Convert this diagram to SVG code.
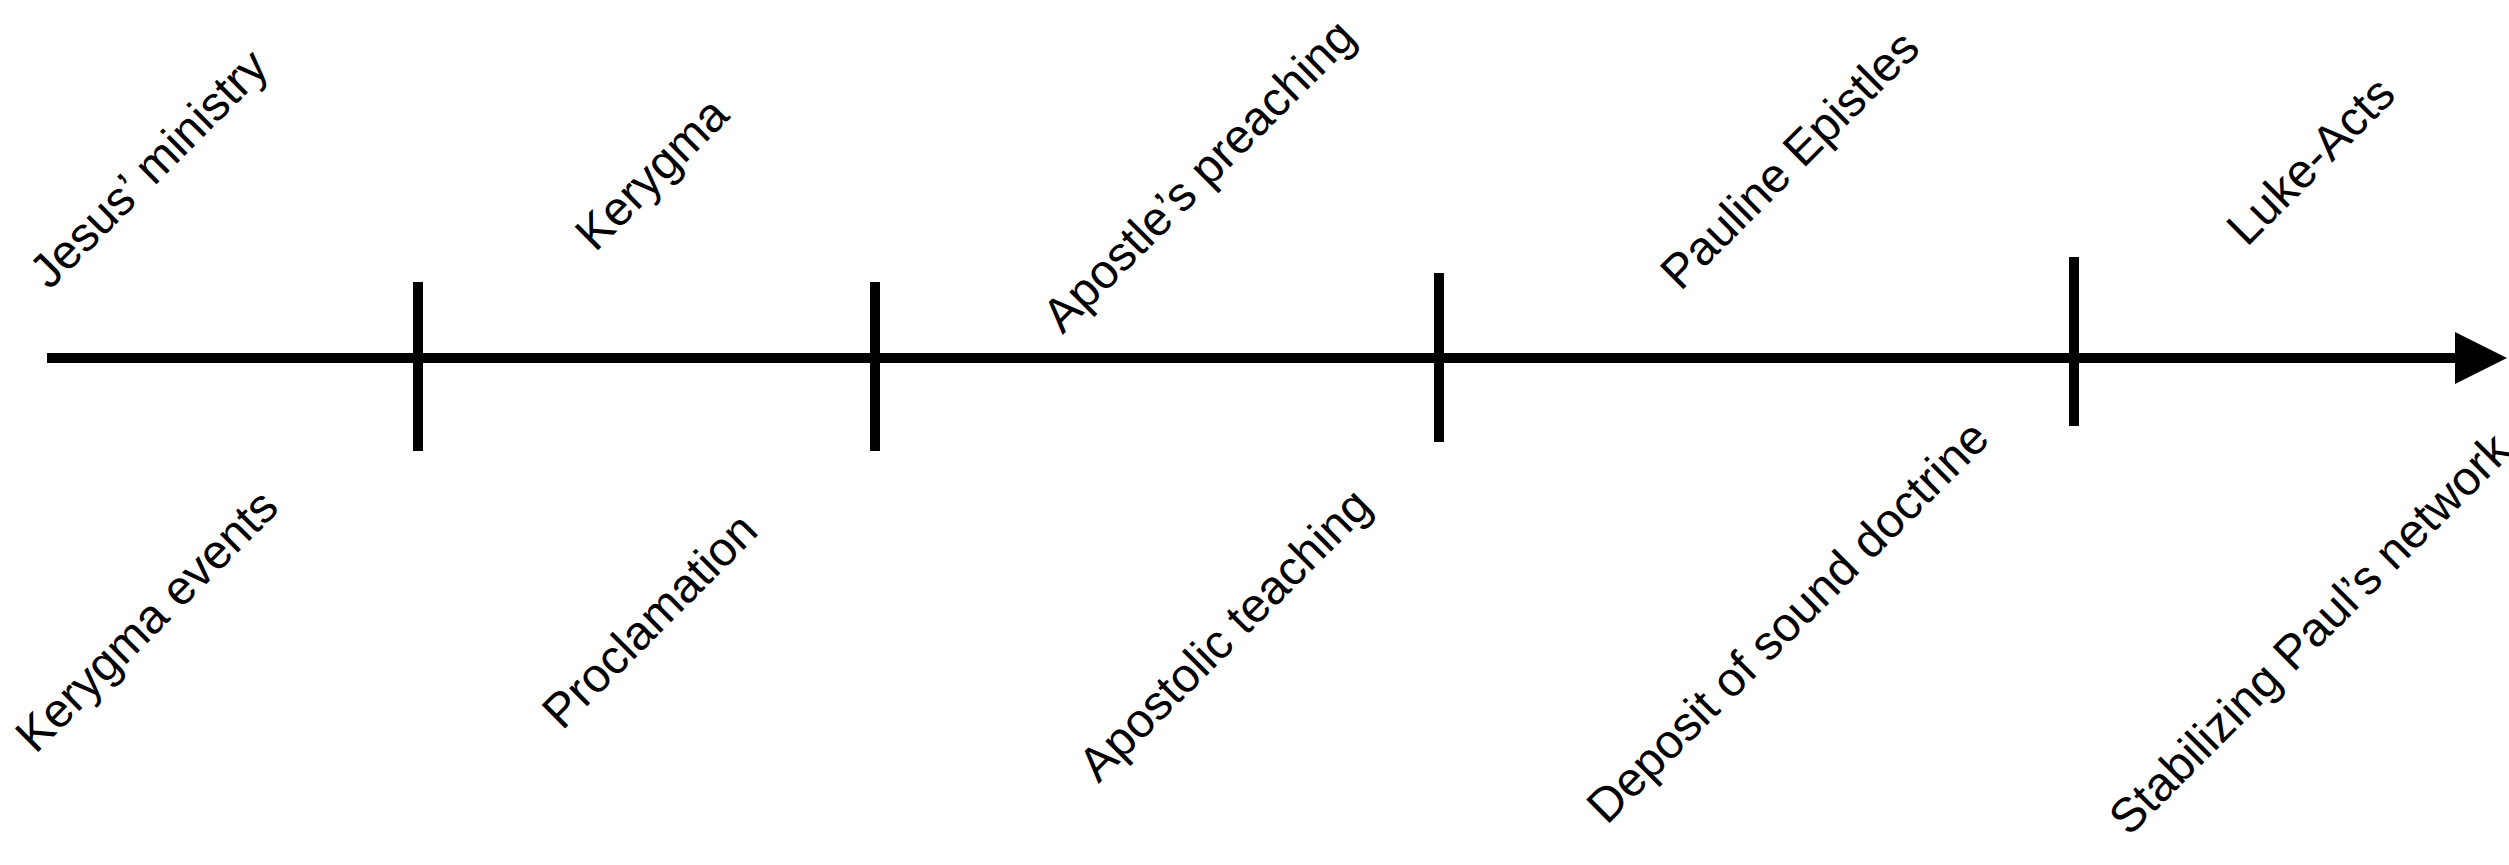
<svg xmlns="http://www.w3.org/2000/svg" width="2509" height="865" viewBox="0 0 2509 865">
<style>
.ax{stroke:#000;stroke-width:10;fill:none}
.tk{stroke:#000;stroke-width:10;fill:none}
.lb{font-family:"Liberation Sans",Arial,sans-serif;font-size:48px;fill:#000;text-anchor:middle}
</style>
<defs>
<marker id="arr" markerUnits="userSpaceOnUse" markerWidth="52" markerHeight="52" refX="0" refY="25" orient="auto" viewBox="0 0 50 50">
<path d="M0,0 L50,25 L0,50 Z" fill="#000"/>
</marker>
</defs>
<rect width="2509" height="865" fill="#fff"/>
<g id="connectors">
<line class="ax" x1="47" y1="358" x2="2455" y2="358" marker-end="url(#arr)"/>
</g>
<g id="ticks">
<line class="tk" x1="418" y1="282" x2="418" y2="451"/>
<line class="tk" x1="875" y1="282" x2="875" y2="451"/>
<line class="tk" x1="1439" y1="273" x2="1439" y2="442"/>
<line class="tk" x1="2074" y1="257" x2="2074" y2="426"/>
</g>
<g id="top-labels">
<g id="t1"><text class="lb" transform="translate(151,171) rotate(-45)" y="13">Jesus’ ministry</text></g>
<g id="t2"><text class="lb" transform="translate(654,176) rotate(-45)" y="13">Kerygma</text></g>
<g id="t3"><text class="lb" transform="translate(1201,178) rotate(-45)" y="13">Apostle’s preaching</text></g>
<g id="t4"><text class="lb" transform="translate(1792,162) rotate(-45)" y="13">Pauline Epistles</text></g>
<g id="t5"><text class="lb" transform="translate(2313,163) rotate(-45)" y="13">Luke-Acts</text></g>
</g>
<g id="bottom-labels">
<g id="b1"><text class="lb" transform="translate(149,623) rotate(-45)" y="13">Kerygma events</text></g>
<g id="b2"><text class="lb" transform="translate(652,623) rotate(-45)" y="13">Proclamation</text></g>
<g id="b3"><text class="lb" transform="translate(1227,637) rotate(-45)" y="13">Apostolic teaching</text></g>
<g id="b4"><text class="lb" transform="translate(1790,624) rotate(-45)" y="13">Deposit of sound doctrine</text></g>
<g id="b5"><text class="lb" transform="translate(2312,636) rotate(-45)" y="13">Stabilizing Paul’s network</text></g>
</g>
</svg>
